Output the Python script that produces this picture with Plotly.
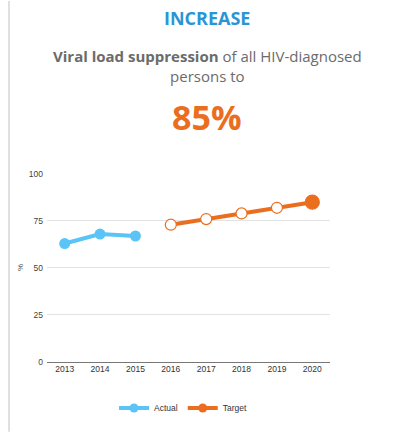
import plotly.graph_objects as go

years = ["2013", "2014", "2015", "2016", "2017", "2018", "2019", "2020"]
actual_years = ["2013", "2014", "2015"]
actual_values = [63, 68, 67]
target_years = ["2016", "2017", "2018", "2019", "2020"]
target_values = [73, 76, 79, 82, 85]
y_ticks = [0, 25, 50, 75, 100]

BLUE = "#5BC4F7"
ORANGE = "#EB6E1F"
TITLE_BLUE = "#2A95D6"
GRAY_TEXT = "#6b6b6b"

W, H = 393, 433
L, R, T, B = 47, 63, 173, 70
plot_h = H - T - B
plot_w = W - L - R


def py(pix):
    return (H - B - pix) / plot_h


def px(pix):
    return (pix - L) / plot_w


fig = go.Figure()

fig.add_trace(go.Scatter(
    x=actual_years, y=actual_values, name="Actual",
    mode="lines+markers", showlegend=False,
    line=dict(color=BLUE, width=4),
    marker=dict(color=BLUE, size=11, opacity=1),
))

target_sizes = [11] * (len(target_values) - 1) + [14]
target_fill = ["white"] * (len(target_values) - 1) + [ORANGE]
fig.add_trace(go.Scatter(
    x=target_years, y=target_values, name="Target",
    mode="lines+markers", showlegend=False,
    line=dict(color=ORANGE, width=4),
    marker=dict(color=target_fill, size=target_sizes, opacity=1,
                line=dict(color=ORANGE, width=1.2)),
))

# legend entries with solid markers
for name, color in [("Actual", BLUE), ("Target", ORANGE)]:
    fig.add_trace(go.Scatter(
        x=[None], y=[None], name=name, mode="lines+markers",
        line=dict(color=color, width=4),
        marker=dict(color=color, size=9, opacity=1),
    ))

fig.add_annotation(
    x=target_years[-1], y=target_values[-1], text=f"{target_values[-1]}%",
    showarrow=False, yshift=13, font=dict(size=8.5, color=ORANGE, family="Arial"),
)

fig.add_annotation(x=px(207), y=py(17), xref="paper", yref="paper",
                   yanchor="middle", text="<b>INCREASE</b>", showarrow=False,
                   font=dict(size=18, color=TITLE_BLUE, family="Open Sans"))
fig.add_annotation(x=px(207), y=py(65), xref="paper", yref="paper",
                   yanchor="middle",
                   text="<b>Viral load suppression</b> of all HIV-diagnosed<br>persons to",
                   showarrow=False, align="center",
                   font=dict(size=15, color=GRAY_TEXT, family="Open Sans"))
fig.add_annotation(x=px(207), y=py(117), xref="paper", yref="paper",
                   yanchor="middle", text="<b>85%</b>", showarrow=False,
                   font=dict(size=34, color=ORANGE, family="Open Sans"))

fig.add_shape(type="line", xref="paper", yref="paper",
              x0=px(9), x1=px(9), y0=py(0), y1=py(H),
              line=dict(color="#d6d6d6", width=1.5))

fig.update_layout(
    width=W, height=H,
    margin=dict(l=L, r=R, t=T, b=B),
    paper_bgcolor="white", plot_bgcolor="white",
    showlegend=True,
    legend=dict(orientation="h", x=px(183), xanchor="center",
                y=py(408), yanchor="middle", itemwidth=30,
                font=dict(size=8.5, color="#333", family="Arial")),
    font=dict(family="Arial", size=8.5, color="#444"),
)

fig.update_xaxes(
    type="category", categoryorder="array", categoryarray=years,
    range=[-0.5, len(years) - 0.5],
    showgrid=False, showline=False, zeroline=False,
    tickfont=dict(size=8.5, color="#333"), ticks="",
)
fig.update_yaxes(
    range=[0, 100.5], tickvals=y_ticks, showgrid=True, gridcolor="#e3e3e3",
    zeroline=True, zerolinecolor="#777", zerolinewidth=1,
    tickfont=dict(size=8.5, color="#444"), ticks="", ticklabelstandoff=3,
    title=dict(text="%", font=dict(size=8, color="#444"), standoff=4),
)

fig.write_html("out.html")
